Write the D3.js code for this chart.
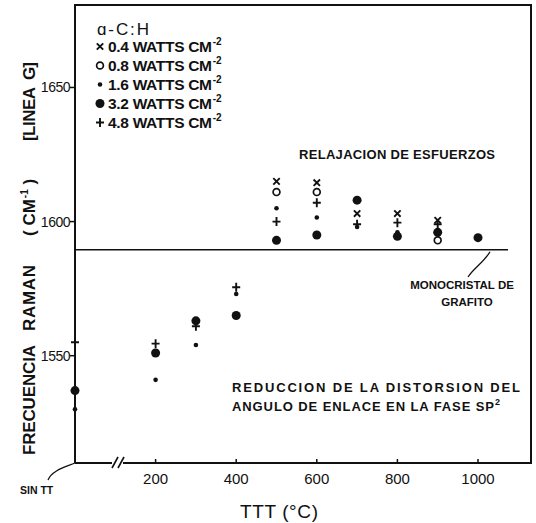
<!DOCTYPE html>
<html>
<head>
<meta charset="utf-8">
<script src="https://cdn.jsdelivr.net/npm/d3@7"></script>
<style>
  body { margin: 0; background: #fff; }
  svg text { font-family: "Liberation Sans", "DejaVu Sans", sans-serif; fill: #111; font-weight: bold; }
</style>
</head>
<body>
<div id="container"></div>
<script>
// annealing temperature (0 = sin tratamiento termico)
var temps = [0, 200, 300, 400, 500, 600, 700, 800, 900, 1000];

// G-line position (cm-1), one array per rf power, null = no point
var w04 = [null, null, null, null, 1615, 1614.5, 1603, 1603, 1600.5, null];
var w08 = [null, null, null, null, 1611, 1611, null, null, 1593, null];
var w16 = [1530, 1541, 1554, 1573, 1605, 1601.5, 1598, 1596, null, null];
var w32 = [1537, 1551, 1563, 1565, 1593, 1595, 1608, 1594.5, 1596, 1594];
var w48 = [1555, 1554.5, 1561, 1575.5, 1600, 1607, 1599, 1599.6, 1599, null];

var powers = ['0.4', '0.8', '1.6', '3.2', '4.8'];
var symbols = ['x', 'o', 'dot', 'big', 'plus'];

var xTicks = [200, 400, 600, 800, 1000];
var yTicks = [1550, 1600, 1650];
var grafito = 1589.5;

var width = 536, height = 523;
// plot frame (note: "top" is reserved on window, so prefixed names)
var pL = 75, pR = 531, pT = 5, pB = 463;

var svg = d3.select('#container').append('svg')
  .attr('width', width)
  .attr('height', height);

var x = d3.scaleLinear().domain([0, 1000]).range([pL, 478]);
var y = d3.scaleLinear().domain([1510, 1680]).range([pB, 7]);

var ink = '#111';

// frame
svg.append('path')
  .attr('d', d3.line()([[pL, pB], [pL, pT], [pR, pT], [pR, pB], [123, pB]]))
  .attr('fill', 'none').attr('stroke', ink).attr('stroke-width', 2);
svg.append('path')
  .attr('d', d3.line()([[pL, pB], [112, pB]]))
  .attr('stroke', ink).attr('stroke-width', 2);
// axis break
[115, 121].forEach(function(bx){
  svg.append('path')
    .attr('d', d3.line()([[bx - 3, pB + 5], [bx + 3, pB - 6]]))
    .attr('stroke', ink).attr('stroke-width', 1.6);
});

// ticks
xTicks.forEach(function(t){
  svg.append('line').attr('x1', x(t)).attr('x2', x(t)).attr('y1', pB).attr('y2', pB - 4)
    .attr('stroke', ink).attr('stroke-width', 1.5);
  svg.append('text').attr('x', x(t)).attr('y', 484).attr('text-anchor', 'middle')
    .style('font-size', '15px').style('font-weight', 'normal').text(t);
});
yTicks.forEach(function(t){
  svg.append('line').attr('x1', pL - 5).attr('x2', pL).attr('y1', y(t)).attr('y2', y(t))
    .attr('stroke', ink).attr('stroke-width', 1.5);
  svg.append('text').attr('x', pL - 5).attr('y', y(t) + 5).attr('text-anchor', 'end')
    .style('font-size', '14px').style('font-weight', 'normal').style('letter-spacing', '-0.5px').text(t);
});

// graphite reference line
svg.append('line').attr('x1', pL).attr('x2', 508).attr('y1', y(grafito)).attr('y2', y(grafito))
  .attr('stroke', ink).attr('stroke-width', 1.5);
svg.append('path')
  .attr('d', 'M490,' + (y(grafito) + 2) + ' C484,262 474,268 468,277')
  .attr('fill', 'none').attr('stroke', ink).attr('stroke-width', 1.3);
svg.append('text').attr('x', 462).attr('y', 289).attr('text-anchor', 'middle')
  .style('font-size', '11.5px').text('MONOCRISTAL DE');
svg.append('text').attr('x', 467).attr('y', 306).attr('text-anchor', 'middle')
  .style('font-size', '11.5px').text('GRAFITO');

// sin TT leader
svg.append('path')
  .attr('d', 'M' + pL + ',' + pB + ' C66,467 52,470 48,480')
  .attr('fill', 'none').attr('stroke', ink).attr('stroke-width', 1.3);
svg.append('text').attr('x', 20).attr('y', 494)
  .style('font-size', '10.5px').text('SIN TT');

// axis titles
svg.append('text').attr('x', 279).attr('y', 518).attr('text-anchor', 'middle')
  .attr('textLength', 78).style('font-size', '19px').style('font-weight', 'normal').text('TTT (°C)');

// y title, laid out word by word (wide gaps in the original lettering)
var yTitle = [
  {t: 'FRECUENCIA', a: 455, len: 110},
  {t: 'RAMAN', a: 331, len: 66},
  {t: '( CM', a: 236, sup: '-1', close: ' )'},
  {t: '[LINEA', a: 141, len: 54},
  {t: 'G]', a: 80, len: 18}
];
yTitle.forEach(function(w){
  var tt = svg.append('text')
    .attr('transform', 'translate(35,' + w.a + ') rotate(-90)')
    .style('font-size', '17px');
  var main = tt.append('tspan').text(w.t);
  if (w.len) main.attr('textLength', w.len);
  if (w.sup) {
    tt.append('tspan').attr('dx', 1).attr('dy', -7).style('font-size', '10px').text(w.sup);
    tt.append('tspan').attr('dy', 7).text(w.close);
  }
});

// annotations
svg.append('text').attr('x', 299).attr('y', 159)
  .attr('textLength', 196).style('font-size', '13px').text('RELAJACION DE ESFUERZOS');
svg.append('text').attr('x', 232).attr('y', 392)
  .attr('textLength', 288).style('font-size', '13px').text('REDUCCION DE LA DISTORSION DEL');
var an = svg.append('text').attr('x', 232).attr('y', 411).style('font-size', '13px');
an.append('tspan').attr('textLength', 262).text('ANGULO DE ENLACE EN LA FASE SP');
an.append('tspan').attr('dy', -6).style('font-size', '9px').text('2');

// marker drawing
function marker(g, kind, cx, cy){
  if (kind === 'x') {
    g.append('path')
      .attr('d', d3.line()([[cx - 3.2, cy - 3.2], [cx + 3.2, cy + 3.2]]) + d3.line()([[cx - 3.2, cy + 3.2], [cx + 3.2, cy - 3.2]]))
      .attr('stroke', ink).attr('stroke-width', 1.9);
  } else if (kind === 'plus') {
    g.append('path')
      .attr('d', d3.line()([[cx - 4, cy], [cx + 4, cy]]) + d3.line()([[cx, cy - 4.5], [cx, cy + 4.5]]))
      .attr('stroke', ink).attr('stroke-width', 1.9);
  } else if (kind === 'o') {
    g.append('circle').attr('cx', cx).attr('cy', cy).attr('r', 3.4)
      .attr('fill', 'none').attr('stroke', ink).attr('stroke-width', 1.7);
  } else if (kind === 'dot') {
    g.append('circle').attr('cx', cx).attr('cy', cy).attr('r', 2.3).attr('fill', ink);
  } else {
    g.append('circle').attr('cx', cx).attr('cy', cy).attr('r', 4.5).attr('fill', ink);
  }
}

var series = [w04, w08, w16, w32, w48];
var pts = svg.append('g').attr('class', 'points');
series.forEach(function(s, i){
  s.forEach(function(v, j){
    if (v === null) return;
    marker(pts, symbols[i], x(temps[j]), y(v));
  });
});

// legend
var leg = svg.append('g').attr('class', 'legend');
leg.append('text').attr('x', 97).attr('y', 35)
  .attr('textLength', 52).style('font-size', '17px').style('font-weight', 'normal').text('\u0251-C:H');
powers.forEach(function(p, i){
  var ly = 52 + i * 19;
  marker(leg, symbols[i], 100, ly - 5.5);
  var t = leg.append('text').attr('x', 108).attr('y', ly).style('font-size', '15.5px');
  t.append('tspan').attr('textLength', 104).text(p + ' WATTS CM');
  t.append('tspan').attr('dx', 1).attr('dy', -7).style('font-size', '10px').text('-2');
});
</script>
</body>
</html>
